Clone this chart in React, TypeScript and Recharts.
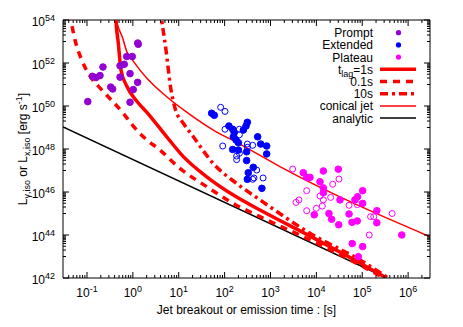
import React from 'react';
import { ComposedChart, XAxis, YAxis, Line, Scatter, ReferenceLine, Legend } from 'recharts';

type P = [number, number];

// ---------- data: [time (s), luminosity (erg/s)] ----------
const promptPts: P[] = [
  [0.104, 1.6e50], [0.131, 2.4e51], [0.157, 2.1e51], [0.192, 2.6e51], [0.223, 6.5e51],
  [0.329, 7.6e50], [0.363, 6.2e50], [0.525, 7.4e51], [0.525, 2.2e51], [0.65, 8.7e51],
  [0.734, 2.0e52], [0.97, 2.0e52], [0.867, 3.2e51], [1.02, 5.8e50], [0.867, 1.5e50],
  [1.27, 1.26e51], [1.31, 7.4e52], [1.28, 8.5e52],
];

const extendedFilled: P[] = [
  [52.2, 4.6e49], [59.6, 3.7e49], [124, 1.17e49], [150, 8.3e48], [162, 5.8e48],
  [155, 3.7e48], [178, 2.6e48], [200, 1.95e48], [150, 9.5e47], [200, 8.9e47],
  [256, 7.6e48], [313, 1.74e49], [293, 1.17e49], [302, 7.4e47], [302, 2.9e47],
  [525, 3.7e48], [612, 1.7e48], [826, 1.38e48], [826, 5.9e47], [422, 1.4e47],
  [328, 7.9e46], [313, 3.9e46], [650, 1.48e46],
];

const extendedOpen: P[] = [
  [82, 8.7e49], [102, 5.6e49], [102, 8.3e48], [210, 8.3e48], [210, 4.6e48],
  [91, 1.38e48], [183, 4.7e47], [210, 6.3e47], [313, 1.7e48], [409, 1.48e48],
  [313, 1.2e48], [500, 1.05e47], [437, 4.5e46], [690, 4.5e46], [183, 3.2e47],
  [409, 3.9e46],
];

const plateauFilled: P[] = [
  [5190, 7.9e46], [6150, 4.8e46], [7270, 4.8e46], [14200, 9.5e46], [30100, 1.15e47],
  [12000, 3.0e46], [14200, 1.55e46], [14200, 9.3e45], [32700, 4.3e45], [9000, 8.7e44],
  [18800, 1.0e45], [21500, 5.4e44], [30700, 3.0e44], [51600, 9.5e44], [59800, 3.9e44],
  [77900, 4.5e44], [69400, 4.3e45], [79000, 6.0e45], [102000, 1.15e46], [102000, 2.95e45],
  [208000, 1.35e45], [208000, 3.7e44], [728000, 1.0e44], [60500, 4.0e43], [102000, 2.9e43],
  [82200, 9.8e42],
];

const plateauOpen: P[] = [
  [3050, 1.17e47], [31100, 4.0e46], [22700, 2.3e46], [6150, 1.15e46], [12000, 6.5e45],
  [14200, 4.3e45], [20500, 5.6e45], [3600, 3.3e45], [4180, 4.3e45], [6150, 1.35e45],
  [10000, 1.74e45], [13500, 2.2e45], [51600, 2.4e45], [77900, 2.6e45], [152000, 7.1e44],
  [178000, 7.1e44], [448000, 1.0e45], [142000, 1.0e44],
];

const lag1s: P[] = [
  [0.42, 3.2e54], [0.428, 1e54], [0.482, 8.3e52], [0.551, 4.7e51], [0.735, 8.5e50],
  [1.21, 1.7e50], [2.0, 5.2e49], [5.47, 3.7e48], [12.6, 4.4e47], [40.7, 5.1e46],
  [155, 7.2e45], [697, 1.2e45], [7260, 8.9e43], [89300, 5e42], [3.4e5, 1e42],
];

const lag01s: P[] = [
  [0.041, 2e54], [0.0442, 1e54], [0.0548, 1.17e53], [0.0767, 1.38e52], [0.116, 2.5e51],
  [0.192, 6.9e50], [0.346, 1.82e50], [0.619, 4.57e49], [1.02, 1.17e49], [1.69, 3.7e48],
  [3.9, 8.9e47], [10.6, 1.26e47], [40.6, 1.78e46], [154, 2.95e45], [590, 7.1e44],
  [7260, 5.9e43], [89300, 4e42], [2.98e5, 1e42],
];

const lag10s: P[] = [
  [3.95, 3.2e54], [4.25, 1e54], [5.28, 4e52], [6.68, 6.9e50], [8.28, 8.1e49],
  [12.6, 1.58e49], [20.8, 3.7e48], [56.6, 2.1e47], [183, 2.5e46], [590, 4.3e45],
  [7260, 1.2e44], [89300, 6.9e42], [4.0e5, 8.9e41],
];

const conicalJet: P[] = [
  [0.43, 3.2e54], [0.44, 1e54], [0.6, 1.45e53], [0.745, 3.2e52], [1.02, 1.23e52],
  [2.0, 2e51], [5.47, 2.7e50], [14.9, 5.2e49], [56.6, 7.6e48], [216, 1.7e48],
  [1610, 1.5e47], [3e6, 8.3e43],
];

const analytic: P[] = [[0.03, 1.05e49], [3.4e5, 1e42]];

// ---------- ticks ----------
const xMajorTicks = [0.1, 1, 10, 100, 1e3, 1e4, 1e5, 1e6];
const xTickLabels = ['-1', '0', '1', '2', '3', '4', '5', '6'];
const yMajorTicks = [1e42, 1e44, 1e46, 1e48, 1e50, 1e52, 1e54];
const yTickLabels = ['42', '44', '46', '48', '50', '52', '54'];

const X_DOMAIN: [number, number] = [0.03, 3e6];
const Y_DOMAIN: [number, number] = [1e42, 1e54];

const xMinorTicks: number[] = [];
for (let n = -2; n <= 6; n++) {
  for (let k = 2; k <= 9; k++) {
    const v = k * Math.pow(10, n);
    if (v > X_DOMAIN[0] && v < X_DOMAIN[1]) xMinorTicks.push(v);
  }
}
const yMinorTicks: number[] = [];
for (let n = 43; n <= 53; n += 2) {
  for (let k = 1; k <= 9; k++) yMinorTicks.push(k * Math.pow(10, n));
}
const xTicks = [...xMajorTicks, ...xMinorTicks];
const yTicks = [...yMajorTicks, ...yMinorTicks];

// ---------- style ----------
const PURPLE = '#9400d3';
const BLUE = '#0000ff';
const MAGENTA = '#ff00ff';
const RED = '#ff0000';
const FONT = '"Liberation Sans", Arial, Helvetica, sans-serif';

const W = 463;
const H = 327;
const MARGIN = { top: 20, right: 33, left: 8, bottom: 19 };
const Y_AXIS_W = 55;
const X_AXIS_H = 30;
const PW = W - MARGIN.left - MARGIN.right - Y_AXIS_W; // 367
const PH = H - MARGIN.top - MARGIN.bottom - X_AXIS_H; // 258

const toData = (a: P[]) => a.map(([x, y]) => ({ x, y }));

const XTick = (p: any) => {
  const { x, y, payload } = p;
  const idx = xMajorTicks.indexOf(payload.value);
  const len = idx >= 0 ? 6 : 3;
  return (
    <g>
      <line x1={x} x2={x} y1={y} y2={y - len} stroke="#000" strokeWidth={1} />
      <line x1={x} x2={x} y1={y - PH} y2={y - PH + len} stroke="#000" strokeWidth={1} />
      {idx >= 0 && (
        <text x={x} y={y + 19} textAnchor="middle" fontSize={12} fontFamily={FONT} fill="#000">
          10<tspan dy={-5} fontSize={9}>{xTickLabels[idx]}</tspan>
        </text>
      )}
    </g>
  );
};

const YTick = (p: any) => {
  const { x, y, payload } = p;
  const idx = yMajorTicks.indexOf(payload.value);
  const len = idx >= 0 ? 6 : 3;
  return (
    <g>
      <line x1={x} x2={x + len} y1={y} y2={y} stroke="#000" strokeWidth={1} />
      <line x1={x + PW} x2={x + PW - len} y1={y} y2={y} stroke="#000" strokeWidth={1} />
      {idx >= 0 && (
        <text x={x - 8} y={y + 6} textAnchor="end" fontSize={12} fontFamily={FONT} fill="#000">
          10<tspan dy={-5} fontSize={9}>{yTickLabels[idx]}</tspan>
        </text>
      )}
    </g>
  );
};

const XTitle = () => (
  <text x={MARGIN.left + Y_AXIS_W + PW / 2} y={314} textAnchor="middle" fontSize={12} fontFamily={FONT} fill="#000">
    Jet breakout or emission time : [s]
  </text>
);

const YTitle = () => {
  const cx = 27;
  const cy = MARGIN.top + PH / 2;
  return (
    <text x={cx} y={cy} transform={`rotate(-90 ${cx} ${cy})`} textAnchor="middle" fontSize={12} fontFamily={FONT} fill="#000">
      L<tspan dy={3} fontSize={9}>γ,iso</tspan>
      <tspan dy={-3}> or L</tspan>
      <tspan dy={3} fontSize={9}>x,iso</tspan>
      <tspan dy={-3}> [erg s</tspan>
      <tspan dy={-5} fontSize={9}>-1</tspan>
      <tspan dy={5}>]</tspan>
    </text>
  );
};

const dot = (color: string, open: boolean) => (p: any) => (
  <circle
    cx={p.cx}
    cy={p.cy}
    r={open ? 3 : 3.3}
    fill={open ? 'none' : color}
    stroke={color}
    strokeWidth={1}
  />
);

const legendItems = [
  { key: 'prompt', kind: 'dot', color: PURPLE },
  { key: 'extended', kind: 'dot', color: BLUE },
  { key: 'plateau', kind: 'dot', color: MAGENTA },
  { key: 'lag1', kind: 'line', color: RED, width: 3.5, dash: undefined },
  { key: 'lag01', kind: 'line', color: RED, width: 3.5, dash: '7 6' },
  { key: 'lag10', kind: 'line', color: RED, width: 3.5, dash: '8 4 3 4' },
  { key: 'conical', kind: 'line', color: RED, width: 1.5, dash: undefined },
  { key: 'analytic', kind: 'line', color: '#000', width: 1.5, dash: undefined },
];

const legendLabel = (key: string) => {
  switch (key) {
    case 'prompt': return 'Prompt';
    case 'extended': return 'Extended';
    case 'plateau': return 'Plateau';
    case 'lag1': return (
      <>t<tspan dy={3} fontSize={9}>lag</tspan><tspan dy={-3}>=1s</tspan></>
    );
    case 'lag01': return '0.1s';
    case 'lag10': return '10s';
    case 'conical': return 'conical jet';
    default: return 'analytic';
  }
};

const LegendBox = () => (
  <svg width={W} height={H} style={{ position: 'absolute', left: 0, top: 0, pointerEvents: 'none' }}>
    {legendItems.map((it, i) => {
      const cy = 32.7 + 12.2 * i;
      return (
        <g key={it.key}>
          <text x={373} y={cy + 4.5} textAnchor="end" fontSize={12} fontFamily={FONT} fill="#000">
            {legendLabel(it.key)}
          </text>
          {it.kind === 'dot' ? (
            <circle cx={398.5} cy={cy} r={2.6} fill={it.color} />
          ) : (
            <line x1={380} x2={416} y1={cy} y2={cy} stroke={it.color} strokeWidth={(it as any).width} strokeDasharray={(it as any).dash} />
          )}
        </g>
      );
    })}
  </svg>
);

export default function App() {
  return (
    <div style={{ position: 'absolute', left: 0, top: 0, width: W, height: H, background: '#fff' }}>
      <ComposedChart width={W} height={H} margin={MARGIN} style={{ fontFamily: FONT }}>
        <XAxis
          dataKey="x"
          type="number"
          scale="log"
          domain={X_DOMAIN}
          allowDataOverflow
          ticks={xTicks}
          interval={0}
          tick={(p: any) => <XTick {...p} />}
          tickLine={false}
          tickSize={0}
          tickMargin={0}
          height={X_AXIS_H}
          axisLine={{ stroke: '#000', strokeWidth: 1 }}
          label={<XTitle />}
        />
        <YAxis
          dataKey="y"
          type="number"
          scale="log"
          domain={Y_DOMAIN}
          allowDataOverflow
          ticks={yTicks}
          interval={0}
          tick={(p: any) => <YTick {...p} />}
          tickLine={false}
          tickSize={0}
          tickMargin={0}
          width={Y_AXIS_W}
          axisLine={{ stroke: '#000', strokeWidth: 1 }}
          label={<YTitle />}
        />
        <ReferenceLine y={Y_DOMAIN[1]} stroke="#000" strokeWidth={1} />
        <ReferenceLine x={X_DOMAIN[1]} stroke="#000" strokeWidth={1} />

        <Line data={toData(analytic)} dataKey="y" type="linear" stroke="#000" strokeWidth={1.5} dot={false} activeDot={false} isAnimationActive={false} />
        <Line data={toData(lag01s)} dataKey="y" type="monotone" stroke={RED} strokeWidth={3.5} strokeDasharray="7 6" dot={false} activeDot={false} isAnimationActive={false} />
        <Line data={toData(lag1s)} dataKey="y" type="monotone" stroke={RED} strokeWidth={3.5} dot={false} activeDot={false} isAnimationActive={false} />
        <Line data={toData(lag10s)} dataKey="y" type="monotone" stroke={RED} strokeWidth={3.5} strokeDasharray="8 4 3 4" dot={false} activeDot={false} isAnimationActive={false} />
        <Line data={toData(conicalJet)} dataKey="y" type="monotone" stroke={RED} strokeWidth={1.5} dot={false} activeDot={false} isAnimationActive={false} />

        <Scatter data={toData(extendedOpen)} dataKey="y" shape={dot(BLUE, true)} isAnimationActive={false} />
        <Scatter data={toData(plateauOpen)} dataKey="y" shape={dot(MAGENTA, true)} isAnimationActive={false} />
        <Scatter data={toData(promptPts)} dataKey="y" shape={dot(PURPLE, false)} isAnimationActive={false} />
        <Scatter data={toData(extendedFilled)} dataKey="y" shape={dot(BLUE, false)} isAnimationActive={false} />
        <Scatter data={toData(plateauFilled)} dataKey="y" shape={dot(MAGENTA, false)} isAnimationActive={false} />

        <Legend
          layout="vertical"
          align="center"
          verticalAlign="middle"
          content={() => <LegendBox />}
          wrapperStyle={{ left: 0, top: 0, width: W, height: H, pointerEvents: 'none' }}
        />
      </ComposedChart>
    </div>
  );
}
